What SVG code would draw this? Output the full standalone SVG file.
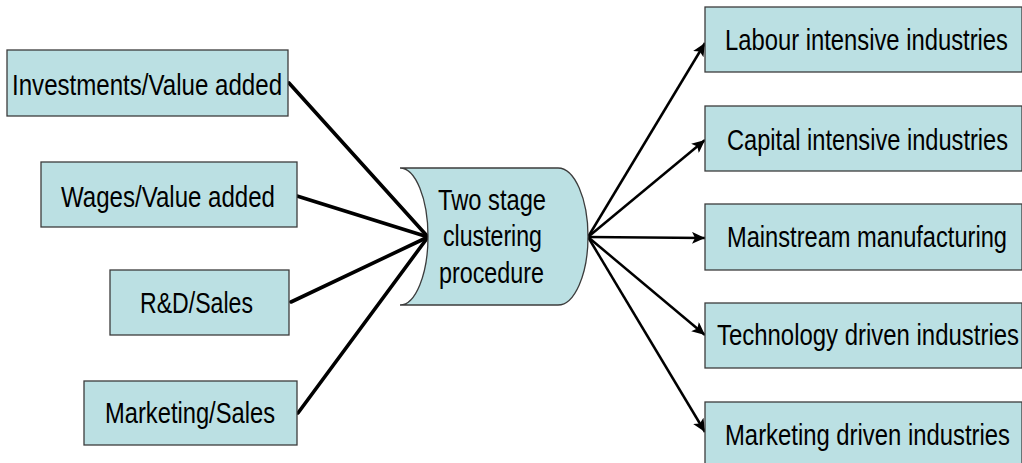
<svg xmlns="http://www.w3.org/2000/svg" width="1022" height="463" viewBox="0 0 1022 463">
  <style>
    .box { fill: #BBE0E3; stroke: #3c3c3c; stroke-width: 1.3; }
    .lbl { font-family: "Liberation Sans", Arial, sans-serif; font-size: 30px; fill: #000; }
    .in { stroke: #000; stroke-width: 3.6; fill: none; stroke-linecap: round; }
    .out { stroke: #000; stroke-width: 2.5; fill: none; marker-end: url(#head); }
  </style>
  <defs>
    <marker id="head" markerUnits="userSpaceOnUse" markerWidth="14" markerHeight="12" refX="13" refY="6" orient="auto">
      <path d="M0,0 L13,6 L0,12 L3,6 Z" fill="#000"/>
    </marker>
  </defs>
  <rect width="1022" height="463" fill="#ffffff"/>

  <!-- connectors -->
  <g id="connectors">
    <line class="in" x1="289" y1="83" x2="428" y2="237"/>
    <line class="in" x1="297" y1="196" x2="428" y2="237"/>
    <line class="in" x1="291" y1="302" x2="428" y2="237"/>
    <line class="in" x1="298" y1="413" x2="428" y2="237"/>
    <line class="out" x1="588" y1="237" x2="705" y2="43"/>
    <line class="out" x1="588" y1="237" x2="705" y2="140"/>
    <line class="out" x1="588" y1="237" x2="705" y2="238"/>
    <line class="out" x1="588" y1="237" x2="705" y2="335"/>
    <line class="out" x1="588" y1="237" x2="705" y2="432"/>
  </g>

  <!-- input ratios (labels use a condensed face: horizontal scale 0.785) -->
  <g id="investments">
    <rect class="box" x="7" y="50" width="281" height="66"/>
    <text class="lbl" transform="translate(12,95) scale(0.785,1)" textLength="344" lengthAdjust="spacingAndGlyphs">Investments/Value added</text>
  </g>
  <g id="wages">
    <rect class="box" x="41" y="162" width="256" height="65"/>
    <text class="lbl" transform="translate(61,207) scale(0.785,1)" textLength="272.6" lengthAdjust="spacingAndGlyphs">Wages/Value added</text>
  </g>
  <g id="rnd">
    <rect class="box" x="110" y="270" width="179" height="65"/>
    <text class="lbl" transform="translate(140,313) scale(0.785,1)" textLength="143.9" lengthAdjust="spacingAndGlyphs">R&amp;D/Sales</text>
  </g>
  <g id="marketing-sales">
    <rect class="box" x="84" y="381" width="213" height="64"/>
    <text class="lbl" transform="translate(105,423) scale(0.785,1)" textLength="216.6" lengthAdjust="spacingAndGlyphs">Marketing/Sales</text>
  </g>

  <!-- clustering procedure -->
  <g id="procedure">
    <path class="box" d="M400,168 H558 A30,68.5 0 0 1 558,305 H400 A28,68.5 0 0 0 400,168 Z"/>
    <text class="lbl" transform="translate(438,210) scale(0.785,1)" textLength="137.6" lengthAdjust="spacingAndGlyphs">Two stage</text>
    <text class="lbl" transform="translate(443,246) scale(0.785,1)" textLength="126.1" lengthAdjust="spacingAndGlyphs">clustering</text>
    <text class="lbl" transform="translate(439,283) scale(0.785,1)" textLength="133.8" lengthAdjust="spacingAndGlyphs">procedure</text>
  </g>

  <!-- resulting industry groups -->
  <g id="labour">
    <rect class="box" x="705" y="7" width="317" height="65"/>
    <text class="lbl" transform="translate(725,50) scale(0.785,1)" textLength="360.5" lengthAdjust="spacingAndGlyphs">Labour intensive industries</text>
  </g>
  <g id="capital">
    <rect class="box" x="705" y="106" width="317" height="65"/>
    <text class="lbl" transform="translate(727,150) scale(0.785,1)" textLength="358" lengthAdjust="spacingAndGlyphs">Capital intensive industries</text>
  </g>
  <g id="mainstream">
    <rect class="box" x="705" y="204" width="317" height="66"/>
    <text class="lbl" transform="translate(727,247) scale(0.785,1)" textLength="356.7" lengthAdjust="spacingAndGlyphs">Mainstream manufacturing</text>
  </g>
  <g id="technology">
    <rect class="box" x="705" y="303" width="317" height="65"/>
    <text class="lbl" transform="translate(717,345) scale(0.785,1)" textLength="384.7" lengthAdjust="spacingAndGlyphs">Technology driven industries</text>
  </g>
  <g id="marketing-driven">
    <rect class="box" x="705" y="402" width="317" height="66"/>
    <text class="lbl" transform="translate(725,445) scale(0.785,1)" textLength="363.1" lengthAdjust="spacingAndGlyphs">Marketing driven industries</text>
  </g>
</svg>
